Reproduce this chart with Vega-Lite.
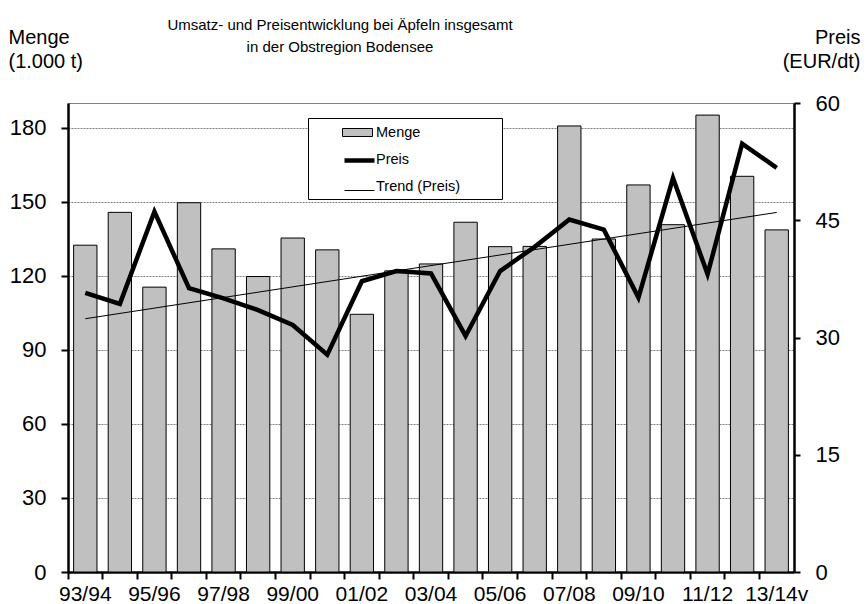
{
  "$schema": "https://vega.github.io/schema/vega-lite/v6.json",
  "width": 726,
  "height": 469,
  "autosize": {"type": "none"},
  "padding": {"left": 68, "top": 103, "right": 73, "bottom": 32},
  "background": "white",
  "config": {
    "font": "Liberation Sans",
    "view": {"stroke": "#808080", "strokeWidth": 1}
  },
  "title": {
    "text": ["Umsatz- und Preisentwicklung bei Äpfeln insgesamt", "in der Obstregion Bodensee"],
    "font": "Liberation Sans",
    "fontSize": 15,
    "fontWeight": "normal",
    "lineHeight": 22,
    "anchor": "middle",
    "dx": -91,
    "dy": 28,
    "offset": 0,
    "color": "black"
  },
  "datasets": {
    "main": [
      {"season": "93/94", "menge": 132.4, "preis": 35.7},
      {"season": "94/95", "menge": 145.7, "preis": 34.3},
      {"season": "95/96", "menge": 115.4, "preis": 46.1},
      {"season": "96/97", "menge": 149.6, "preis": 36.3},
      {"season": "97/98", "menge": 130.9, "preis": 35.0},
      {"season": "98/99", "menge": 119.7, "preis": 33.5},
      {"season": "99/00", "menge": 135.3, "preis": 31.6},
      {"season": "00/01", "menge": 130.5, "preis": 27.8},
      {"season": "01/02", "menge": 104.4, "preis": 37.2},
      {"season": "02/03", "menge": 122.0, "preis": 38.5},
      {"season": "03/04", "menge": 124.8, "preis": 38.2},
      {"season": "04/05", "menge": 141.7, "preis": 30.2},
      {"season": "05/06", "menge": 131.8, "preis": 38.5},
      {"season": "06/07", "menge": 131.9, "preis": 41.6},
      {"season": "07/08", "menge": 180.7, "preis": 45.1},
      {"season": "08/09", "menge": 134.9, "preis": 43.8},
      {"season": "09/10", "menge": 156.8, "preis": 35.1},
      {"season": "10/11", "menge": 140.7, "preis": 50.4},
      {"season": "11/12", "menge": 185.1, "preis": 38.1},
      {"season": "12/13", "menge": 160.3, "preis": 54.8},
      {"season": "13/14v", "menge": 138.6, "preis": 51.7}
    ],
    "trend": [
      {"season": "93/94", "trend": 32.4},
      {"season": "13/14v", "trend": 46.0}
    ]
  },
  "encoding": {
    "x": {
      "field": "season",
      "type": "nominal",
      "scale": {
        "domain": ["93/94","94/95","95/96","96/97","97/98","98/99","99/00","00/01","01/02","02/03","03/04","04/05","05/06","06/07","07/08","08/09","09/10","10/11","11/12","12/13","13/14v"],
        "paddingInner": 0.325,
        "paddingOuter": 0.1625
      },
      "axis": {
        "title": null,
        "labelAngle": 0,
        "labelExpr": "parseInt(substring(datum.value, 0, 2)) % 2 == 1 ? datum.value : ''",
        "labelFontSize": 21,
        "labelColor": "black",
        "labelPadding": 4,
        "bandPosition": -0.2407,
        "tickSize": 7,
        "tickWidth": 2,
        "tickColor": "black",
        "domainColor": "black",
        "domainWidth": 2.5,
        "grid": false
      }
    }
  },
  "layer": [
    {
      "data": {"name": "main"},
      "mark": {"type": "bar", "strokeWidth": 1, "opacity": 1},
      "encoding": {
        "y": {
          "field": "menge",
          "type": "quantitative",
          "scale": {"domain": [0, 190], "nice": false},
          "axis": {
            "values": [0, 30, 60, 90, 120, 150, 180],
            "title": ["Menge", "(1.000 t)"],
            "titleAngle": 0,
            "titleAlign": "left",
            "titleBaseline": "top",
            "titleX": -60,
            "titleY": -76,
            "titleFontSize": 20,
            "titleFontWeight": "normal",
            "titleLineHeight": 24,
            "titleColor": "black",
            "labelFontSize": 22,
            "labelColor": "black",
            "labelPadding": 15,
            "tickSize": 7,
            "tickWidth": 2,
            "tickColor": "black",
            "domainColor": "black",
            "domainWidth": 2.5,
            "grid": true,
            "gridColor": "#808080",
            "gridDash": [2, 1],
            "gridWidth": 1
          }
        },
        "fill": {
          "datum": "Menge",
          "type": "nominal",
          "scale": {"domain": ["Menge", "Preis", "Trend (Preis)"], "range": ["#c0c0c0", "transparent", "transparent"]},
          "legend": {
            "title": null,
            "orient": "none",
            "legendX": 240,
            "legendY": 15,
            "padding": 6,
            "strokeColor": "black",
            "fillColor": "white",
            "labelFontSize": 14.5,
            "labelColor": "black",
            "labelOffset": 10,
            "symbolOffset": 35,
            "symbolSize": 256,
            "symbolType": "M-5.375,0M17,0M-1.875,-0.5H1.875V0.5H-1.875Z",
            "symbolStrokeWidth": 1,
            "rowPadding": 12,
            "zindex": 0
          }
        },
        "stroke": {
          "datum": "Menge",
          "type": "nominal",
          "scale": {"domain": ["Menge", "Preis", "Trend (Preis)"], "range": ["black", "transparent", "transparent"]}
        }
      }
    },
    {
      "data": {"name": "trend"},
      "mark": {"type": "line", "color": "black", "strokeWidth": 1},
      "encoding": {
        "y": {
          "field": "trend",
          "type": "quantitative",
          "scale": {"domain": [0, 60], "nice": false},
          "axis": null
        }
      }
    },
    {
      "data": {"name": "main"},
      "mark": {"type": "line", "color": "black", "strokeJoin": "miter"},
      "encoding": {
        "y": {
          "field": "preis",
          "type": "quantitative",
          "scale": {"domain": [0, 60], "nice": false},
          "axis": {
            "orient": "right",
            "values": [0, 15, 30, 45, 60],
            "title": ["Preis", "(EUR/dt)"],
            "titleAngle": 0,
            "titleAlign": "right",
            "titleBaseline": "top",
            "titleX": 66,
            "titleY": -76,
            "titleFontSize": 20,
            "titleFontWeight": "normal",
            "titleLineHeight": 24,
            "titleColor": "black",
            "labelFontSize": 22,
            "labelColor": "black",
            "labelPadding": 15,
            "tickSize": 6,
            "tickWidth": 2,
            "tickColor": "black",
            "domainColor": "black",
            "domainWidth": 2.5,
            "grid": false
          }
        },
        "strokeWidth": {
          "datum": "Preis",
          "type": "nominal",
          "scale": {"type": "ordinal", "domain": ["Preis", "Trend (Preis)"], "range": [4.5, 1]},
          "legend": {
            "title": null,
            "orient": "none",
            "legendX": 240,
            "legendY": 41,
            "padding": 6,
            "labelFontSize": 14.5,
            "labelOpacity": 0,
            "labelExpr": "''",
            "labelOffset": 10,
            "symbolOffset": 35,
            "symbolSize": 256,
            "symbolType": "M-5.375,0M17,0M-1.875,0H1.875",
            "symbolStrokeColor": "black",
            "rowPadding": 12,
            "zindex": 1
          }
        }
      }
    }
  ],
  "resolve": {"scale": {"y": "independent"}}
}
